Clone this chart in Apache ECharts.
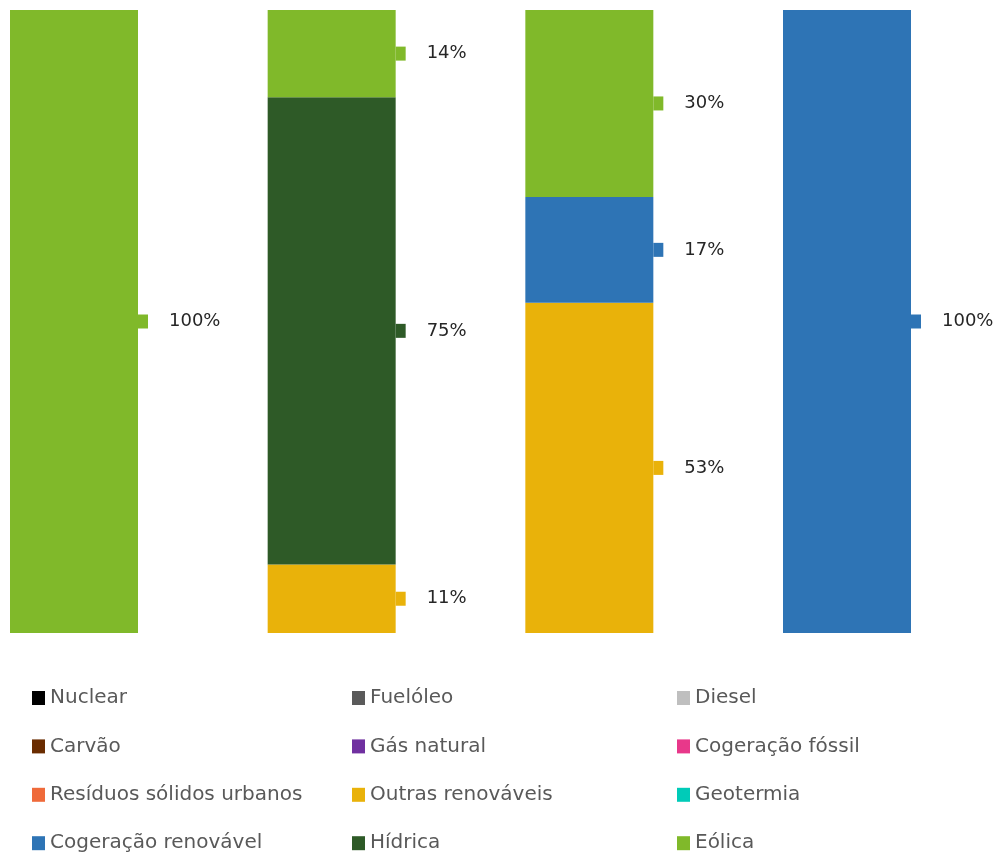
<!DOCTYPE html>
<html>
<head>
<meta charset="utf-8">
<script src="https://cdn.jsdelivr.net/npm/echarts@6/dist/echarts.min.js"></script>
<style>
html,body{margin:0;padding:0;background:#fff;}
#chart{width:999px;height:852px;}
</style>
</head>
<body>
<div id="chart"></div>
<script>
const categories = ['A', 'B', 'C', 'D'];
const seriesNames = ['Nuclear', 'Fuelóleo', 'Diesel', 'Carvão', 'Gás natural', 'Cogeração fóssil',
  'Resíduos sólidos urbanos', 'Outras renováveis', 'Geotermia', 'Cogeração renovável', 'Hídrica', 'Eólica'];
const nuclear = [0, 0, 0, 0];
const fueloleo = [0, 0, 0, 0];
const diesel = [0, 0, 0, 0];
const carvao = [0, 0, 0, 0];
const gasNatural = [0, 0, 0, 0];
const cogeracaoFossil = [0, 0, 0, 0];
const residuos = [0, 0, 0, 0];
const outrasRenovaveis = [0, 11, 53, 0];
const geotermia = [0, 0, 0, 0];
const cogeracaoRenovavel = [0, 0, 17, 100];
const hidrica = [0, 75, 0, 0];
const eolica = [100, 14, 30, 0];
const seriesValues = [nuclear, fueloleo, diesel, carvao, gasNatural, cogeracaoFossil,
  residuos, outrasRenovaveis, geotermia, cogeracaoRenovavel, hidrica, eolica];
const colors = ['#000000', '#5a5a5a', '#bfbfbf', '#6a2c00', '#7030a0', '#e8388a',
  '#ef6a3a', '#e9b20a', '#00cbb8', '#2e74b5', '#2e5a27', '#80b92a'];
const legendCols = [
  ['Nuclear', 'Carvão', 'Resíduos sólidos urbanos', 'Cogeração renovável'],
  ['Fuelóleo', 'Gás natural', 'Outras renováveis', 'Hídrica'],
  ['Diesel', 'Cogeração fóssil', 'Geotermia', 'Eólica']
];
const legendLefts = [32, 352, 677];

const chart = echarts.init(document.getElementById('chart'), null, {renderer: 'canvas'});
const series = seriesNames.map((name, i) => ({
  name: name,
  type: 'bar',
  stack: 'total',
  barWidth: 128,
  clip: false,
  data: seriesValues[i],
  itemStyle: {color: colors[i]},
  label: {
    show: true,
    position: 'right',
    distance: 0,
    formatter: p => p.value > 0 ? '{tab| }{t|' + p.value + '%}' : '',
    rich: {
      tab: {width: 10, height: 14, backgroundColor: colors[i], fontSize: 8},
      t: {fontSize: 18, fontFamily: 'DejaVu Sans', color: '#262626', padding: [0, 0, 0, 21]}
    }
  },
  emphasis: {disabled: true}
}));

const legends = legendCols.map((col, i) => ({
  show: true,
  orient: 'vertical',
  left: legendLefts[i],
  top: 688,
  height: 200,
  padding: 0,
  itemWidth: 13,
  itemHeight: 14,
  itemGap: 28.4,
  icon: 'rect',
  selectedMode: false,
  data: col,
  textStyle: {fontSize: 20, fontFamily: 'DejaVu Sans', color: '#595959'}
}));

chart.setOption({
  animation: false,
  backgroundColor: '#ffffff',
  color: colors,
  grid: {left: 74, top: 10, width: 773, height: 623, containLabel: false},
  xAxis: {type: 'category', data: categories, show: false, boundaryGap: false},
  yAxis: {type: 'value', min: 0, max: 100, show: false},
  legend: legends,
  series: series
});
</script>
</body>
</html>
